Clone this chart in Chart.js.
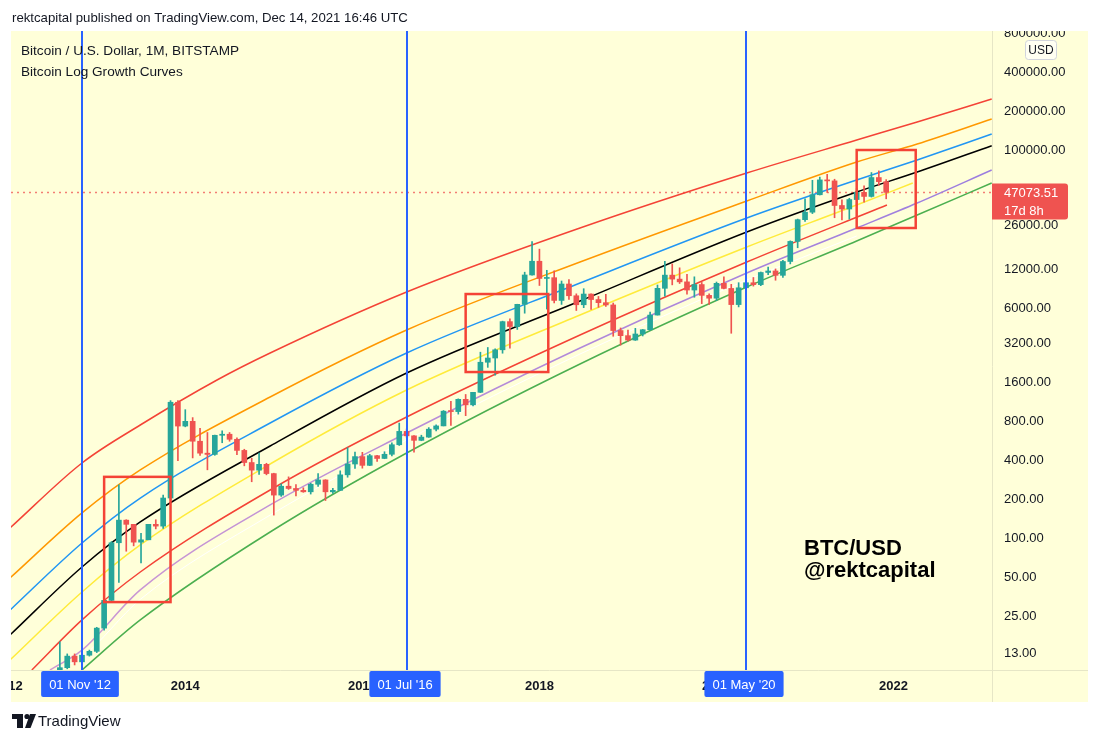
<!DOCTYPE html>
<html>
<head>
<meta charset="utf-8">
<script src="https://cdn.jsdelivr.net/npm/chart.js@4.4.1/dist/chart.umd.min.js"></script>
<style>
  html, body { margin: 0; background: #fff; }
  #wrap { position: relative; width: 1100px; height: 743px; }
</style>
</head>
<body>
<div id="wrap"><canvas id="btc" width="1100" height="743"></canvas></div>
<script>
// Monthly BTC/USD candles (Bitstamp), month 0 = Jan 2012
const candleOpen = [
  4.7, 5.5, 4.9, 4.8, 5.0, 5.2, 6.7, 9.4, 10.1, 12.4, 11.2, 12.6,
  13.5, 20.4, 33.4, 93, 139, 129, 94, 98, 129, 125, 206, 1130,
  740, 805, 565, 457, 447, 628, 640, 585, 480, 387, 338, 375,
  318, 217, 254, 244, 236, 230, 263, 284, 230, 236, 311, 377,
  430, 368, 437, 416, 448, 531, 673, 622, 574, 608, 700, 742,
  964, 957, 1190, 1079, 1348, 2300, 2480, 2870, 4735, 4340, 6440, 10850,
  13850, 10200, 10340, 6900, 9240, 7500, 6390, 7730, 7010, 6630, 6370, 4040,
  3690, 3410, 3800, 4100, 5320, 8560, 10820, 10080, 9600, 8300, 9150, 7550,
  7180, 9350, 8540, 6410, 8640, 9450, 9140, 11340, 11650, 10780, 13790, 19700,
  28990, 33110, 45150, 58800, 57750, 37300, 35040, 41460, 47100, 43820, 61300, 57000
];
const candleHigh = [
  7.4, 6.3, 5.4, 5.3, 5.2, 6.7, 9.6, 16, 12.9, 12.9, 12.6, 13.8,
  20.7, 33.4, 95, 260, 140, 129, 110, 128, 140, 217, 1163, 1163,
  990, 860, 710, 660, 630, 680, 660, 600, 490, 417, 458, 382,
  320, 265, 300, 262, 247, 268, 318, 285, 245, 334, 503, 467,
  464, 448, 439, 469, 549, 780, 703, 626, 629, 720, 755, 975,
  1150, 1200, 1297, 1350, 2750, 2990, 2920, 4775, 4980, 6450, 11400, 19670,
  17180, 11790, 11680, 9745, 9990, 7760, 8500, 7760, 7410, 7680, 6590, 4230,
  4070, 4200, 4120, 5620, 9080, 13800, 13200, 12320, 10950, 10500, 9500, 7750,
  9570, 10500, 9190, 9460, 10080, 10380, 11440, 12480, 12080, 14100, 19900, 29300,
  41950, 58350, 61780, 64900, 59500, 41300, 42400, 50500, 52900, 67000, 69000, 59050
];
const candleLow = [
  4.4, 4.2, 4.5, 4.7, 4.9, 5.2, 6.5, 7.1, 9.9, 10.6, 10.5, 12.4,
  13.2, 19.7, 33, 46, 80, 88, 65, 98, 119, 120, 200, 400,
  730, 420, 440, 340, 440, 550, 565, 445, 365, 275, 313, 311,
  152, 212, 240, 214, 228, 221, 253, 197, 224, 236, 298, 348,
  350, 366, 395, 414, 436, 524, 605, 465, 570, 605, 680, 742,
  750, 915, 890, 1060, 1340, 2100, 1830, 2700, 2950, 4120, 5500, 10800,
  9000, 5920, 6600, 6430, 7030, 5770, 6070, 5880, 6100, 6200, 3650, 3120,
  3350, 3390, 3670, 4060, 5320, 7460, 9100, 9320, 7700, 7300, 6520, 6430,
  6870, 8450, 3850, 6150, 8100, 8900, 8970, 10900, 9880, 10370, 13210, 17600,
  28130, 32300, 44950, 47000, 30000, 28800, 29300, 37300, 39600, 43300, 53250, 42000
];
const candleClose = [
  5.5, 4.9, 4.8, 5.0, 5.2, 6.7, 9.4, 10.1, 12.4, 11.2, 12.6, 13.5,
  20.4, 33.4, 93, 139, 129, 94, 98, 129, 125, 206, 1130, 740,
  805, 565, 457, 447, 628, 640, 585, 480, 387, 338, 375, 318,
  217, 254, 244, 236, 230, 263, 284, 230, 236, 311, 377, 430,
  368, 437, 416, 448, 531, 673, 622, 574, 608, 700, 742, 964,
  957, 1190, 1079, 1348, 2300, 2480, 2870, 4735, 4340, 6440, 10850, 13850,
  10200, 10340, 6900, 9240, 7500, 6390, 7730, 7010, 6630, 6370, 4040, 3690,
  3410, 3800, 4100, 5320, 8560, 10820, 10080, 9600, 8300, 9150, 7550, 7180,
  9350, 8540, 6410, 8640, 9450, 9140, 11340, 11650, 10780, 13790, 19700, 28990,
  33110, 45150, 58800, 57750, 37300, 35040, 41460, 47100, 43820, 61300, 57000, 47073.51
];
const candleMonths = candleClose.map((_, i) => i);

// Log growth curves as [month, price]
const curveTopRed = [[0.24, 121], [10, 384], [17.9, 754], [28.3, 1678], [35.5, 2711], [54, 8016], [77.5, 25000], [100.1, 66440], [115, 119400], [123.2, 164500], [133.3, 247600]];
const curveOrange = [[0.24, 49.7], [10, 158], [17.9, 339], [35.5, 1240], [54, 4081], [77.5, 13660], [100.1, 40390], [115, 80780], [123.2, 111260], [133.3, 173500]];
const curveBlue = [[0.24, 28.1], [10, 92.6], [17.9, 206], [35.5, 781], [54, 2711], [77.5, 9407], [100.1, 29850], [115, 58690], [123.2, 83740], [133.3, 133000]];
const curveBlack = [[0.24, 18.05], [10, 60.4], [17.9, 134.5], [35.5, 519], [54, 1900], [77.5, 6830], [100.1, 23280], [115, 47400], [123.2, 67640], [133.3, 108000]];
const curveYellow = [[0.24, 11.57], [10, 38.75], [17.9, 89.4], [35.5, 377], [54, 1404], [77.5, 5325], [100.1, 17840], [115, 37630], [122.6, 55630]];
const curveLowRed = [[3.2, 9.69], [10, 23.6], [17.9, 55.3], [35.5, 237.5], [54, 869], [77.5, 3731], [100.1, 13660], [119.1, 37630]];
const curvePurple = [[5.66, 9.69], [10, 13.8], [17.9, 40.2], [35.5, 182], [54, 654], [77.5, 2963], [100.1, 11235], [115, 25000], [123.2, 38970], [133.3, 70080]];
const curveWhite = [[6.6, 9.69], [10, 12.2], [17.9, 34], [35.5, 152], [54, 578], [77.5, 2662], [100.1, 9922], [115, 21690]];
const curveGreen = [[10, 9.69], [17.9, 23.6], [35.5, 112.6], [54, 458.5], [77.5, 2230], [100.1, 8760], [115, 19840], [123.2, 31500], [133.3, 55630]];

// Axes
const yTickValues = [800000, 400000, 200000, 100000, 26000, 12000, 6000, 3200, 1600, 800, 400, 200, 100, 50, 25, 13];
const xTickMonths = [0, 24, 48, 72, 96, 120];
const xTickLabels = ["2012", "2014", "2016", "2018", "2020", "2022"];

// Drawings on the chart
const markerMonths = [10, 54, 100];
const markerLabels = ["01 Nov '12", "01 Jul '16", "01 May '20"];
const boxMonthRanges = [[13, 22], [62, 73.2], [115, 123]];
const boxPriceRanges = [[32.4, 300], [1933, 7733], [25000, 100000]];
const lastPrice = 47073.51;
const countdown = "17d 8h";

const FONT = "'Liberation Sans', Arial, sans-serif";
const PANEL = "#ffffd9";
const INK = "#131722";
const UP = "#26a69a";
const DOWN = "#ef5350";
const TV_BLUE = "#2962ff";

const candleColor = (ctx) =>
  candleClose[ctx.dataIndex] >= candleOpen[ctx.dataIndex] ? UP : DOWN;

// purple curve shifts from lilac (left) to violet (right)
const purpleStroke = (ctx) => {
  const area = ctx.chart.chartArea;
  if (!area) return "#b493dd";
  const g = ctx.chart.ctx.createLinearGradient(area.left, 0, area.right, 0);
  g.addColorStop(0, "#cf9ad2");
  g.addColorStop(1, "#9b7ddf");
  return g;
};

function curve(points, color, width) {
  return {
    type: "line",
    data: points.map(([m, v]) => ({ x: m, y: v })),
    borderColor: color,
    borderWidth: width || 1.5,
    pointRadius: 0,
    cubicInterpolationMode: "monotone",
    order: 10,
  };
}

const decor = {
  id: "decor",
  beforeDraw(chart) {
    const { ctx, chartArea } = chart;
    const xs = chart.scales.x, ys = chart.scales.y;
    ctx.save();
    ctx.fillStyle = "#ffffff";
    ctx.fillRect(0, 0, chart.width, chart.height);
    ctx.fillStyle = PANEL;
    ctx.fillRect(chartArea.left, chartArea.top, ys.right - chartArea.left, xs.bottom - chartArea.top);
    // pane separators
    ctx.strokeStyle = "#e6e6c6";
    ctx.lineWidth = 1;
    ctx.beginPath();
    ctx.moveTo(chartArea.right + 0.5, chartArea.top);
    ctx.lineTo(chartArea.right + 0.5, xs.bottom);
    ctx.moveTo(chartArea.left, chartArea.bottom + 0.5);
    ctx.lineTo(ys.right, chartArea.bottom + 0.5);
    ctx.stroke();
    ctx.restore();
  },
  beforeDatasetsDraw(chart) {
    const { ctx, chartArea } = chart;
    const py = Math.round(chart.scales.y.getPixelForValue(lastPrice)) + 0.5;
    ctx.save();
    ctx.strokeStyle = "rgba(239,83,80,0.75)";
    ctx.lineWidth = 1.5;
    ctx.setLineDash([2, 4]);
    ctx.beginPath();
    ctx.moveTo(chartArea.left, py);
    ctx.lineTo(chartArea.right, py);
    ctx.stroke();
    ctx.restore();
  },
  afterDatasetsDraw(chart) {
    const { ctx, chartArea } = chart;
    const xs = chart.scales.x, ys = chart.scales.y;
    ctx.save();
    ctx.beginPath();
    ctx.rect(chartArea.left, chartArea.top, chartArea.right - chartArea.left, chartArea.bottom - chartArea.top);
    ctx.clip();
    // vertical date markers
    ctx.strokeStyle = TV_BLUE;
    ctx.lineWidth = 2;
    markerMonths.forEach((m) => {
      const x = Math.round(xs.getPixelForValue(m));
      ctx.beginPath();
      ctx.moveTo(x, chartArea.top);
      ctx.lineTo(x, chartArea.bottom);
      ctx.stroke();
    });
    // highlighted boxes
    ctx.strokeStyle = "#f44336";
    ctx.lineWidth = 2.5;
    boxMonthRanges.forEach(([m0, m1], i) => {
      const [p0, p1] = boxPriceRanges[i];
      const x0 = xs.getPixelForValue(m0), x1 = xs.getPixelForValue(m1);
      const y0 = ys.getPixelForValue(p1), y1 = ys.getPixelForValue(p0);
      ctx.strokeRect(x0, y0, x1 - x0, y1 - y0);
    });
    ctx.restore();
  },
  afterDraw(chart) {
    const { ctx, chartArea } = chart;
    const xs = chart.scales.x, ys = chart.scales.y;
    ctx.save();
    // cut labels that run outside the panel
    ctx.fillStyle = "#ffffff";
    ctx.fillRect(0, chartArea.bottom - 2, chartArea.left, xs.bottom - chartArea.bottom + 6);
    ctx.fillRect(chartArea.right + 1, 0, chart.width - chartArea.right, chartArea.top);

    // date marker labels on the time axis
    ctx.font = "13px " + FONT;
    ctx.textAlign = "center";
    ctx.textBaseline = "middle";
    markerMonths.forEach((m, i) => {
      const x = Math.round(xs.getPixelForValue(m));
      const w = ctx.measureText(markerLabels[i]).width + 16;
      ctx.fillStyle = TV_BLUE;
      ctx.beginPath();
      ctx.roundRect(x - w / 2 - 2, chartArea.bottom + 1, w, 26, 2);
      ctx.fill();
      ctx.fillStyle = "#ffffff";
      ctx.fillText(markerLabels[i], x - 2, chartArea.bottom + 15);
    });

    // last price label on the price axis
    const py = ys.getPixelForValue(lastPrice);
    ctx.fillStyle = DOWN;
    ctx.beginPath();
    ctx.roundRect(chartArea.right, py - 9, 76, 36, [0, 3, 3, 0]);
    ctx.fill();
    ctx.fillStyle = "#ffffff";
    ctx.textAlign = "left";
    ctx.fillText(lastPrice.toFixed(2), chartArea.right + 12, py + 1);
    ctx.fillText(countdown, chartArea.right + 12, py + 19);

    // currency badge
    ctx.fillStyle = "#fffff2";
    ctx.strokeStyle = "#d1d4dc";
    ctx.lineWidth = 1;
    ctx.beginPath();
    ctx.roundRect(1025.5, 40.5, 31, 19, 3);
    ctx.fill();
    ctx.stroke();
    ctx.fillStyle = INK;
    ctx.font = "12px " + FONT;
    ctx.textAlign = "center";
    ctx.fillText("USD", 1041, 50.5);

    // header and legend
    ctx.textAlign = "left";
    ctx.textBaseline = "alphabetic";
    ctx.fillStyle = INK;
    ctx.font = "13.2px " + FONT;
    ctx.fillText("rektcapital published on TradingView.com, Dec 14, 2021 16:46 UTC", 12, 22);
    ctx.font = "13.6px " + FONT;
    ctx.fillText("Bitcoin / U.S. Dollar, 1M, BITSTAMP", 21, 55);
    ctx.fillText("Bitcoin Log Growth Curves", 21, 76);

    // watermark text
    ctx.fillStyle = "#000000";
    ctx.font = "bold 22px " + FONT;
    ctx.fillText("BTC/USD", 804, 555);
    ctx.fillText("@rektcapital", 804, 577);

    // footer logo
    ctx.fillStyle = INK;
    ctx.fillRect(12, 714, 11, 5);
    ctx.fillRect(17, 714, 6, 14);
    ctx.beginPath();
    ctx.arc(27, 716.5, 2.6, 0, Math.PI * 2);
    ctx.fill();
    ctx.beginPath();
    ctx.moveTo(30, 714);
    ctx.lineTo(36, 714);
    ctx.lineTo(30.5, 728);
    ctx.lineTo(25, 728);
    ctx.closePath();
    ctx.fill();
    ctx.font = "15px " + FONT;
    ctx.fillText("TradingView", 38, 726);
    ctx.restore();
  },
};

new Chart(document.getElementById("btc"), {
  type: "bar",
  data: {
    datasets: [
      {
        type: "bar",
        data: candleMonths.map((m) => ({ x: m, y: [candleLow[m], candleHigh[m]] })),
        backgroundColor: candleColor,
        barThickness: 1,
        grouped: false,
        order: 2,
      },
      {
        type: "bar",
        data: candleMonths.map((m) => ({ x: m, y: [candleOpen[m], candleClose[m]] })),
        backgroundColor: candleColor,
        barThickness: 5,
        minBarLength: 1,
        grouped: false,
        order: 1,
      },
      curve(curveTopRed, "#f44336"),
      curve(curveOrange, "#ff9800"),
      curve(curveBlue, "#2196f3"),
      curve(curveBlack, "#000000"),
      curve(curveYellow, "#ffeb3b"),
      curve(curveLowRed, "#f44336"),
      curve(curvePurple, purpleStroke),
      curve(curveWhite, "#ffffff", 1),
      curve(curveGreen, "#4caf50"),
    ],
  },
  options: {
    responsive: false,
    animation: false,
    devicePixelRatio: 1,
    layout: { padding: { left: 11, top: 31, right: 12, bottom: 41 } },
    plugins: { legend: { display: false }, tooltip: { enabled: false } },
    scales: {
      x: {
        type: "linear",
        min: 0.377,
        max: 133.34,
        offset: false,
        grid: { display: false, drawTicks: false },
        border: { display: false },
        ticks: {
          color: INK,
          font: { family: FONT, size: 13, weight: "bold" },
          padding: 9,
          maxRotation: 0,
          autoSkip: false,
          callback: (v, i) => xTickLabels[i],
        },
        afterBuildTicks: (s) => {
          s.ticks = xTickMonths.map((v) => ({ value: v }));
        },
        afterFit: (s) => {
          s.height = 32;
          s.paddingLeft = 0;
          s.paddingRight = 0;
        },
      },
      y: {
        type: "logarithmic",
        position: "right",
        min: 9.69,
        max: 829000,
        grid: { display: false, drawTicks: false },
        border: { display: false },
        ticks: {
          color: INK,
          font: { family: FONT, size: 13 },
          padding: 12,
          autoSkip: false,
          callback: (v) => Number(v).toFixed(2),
        },
        afterBuildTicks: (s) => {
          s.ticks = yTickValues.map((v) => ({ value: v }));
        },
        afterFit: (s) => {
          s.width = 96;
          s.paddingTop = 0;
          s.paddingBottom = 0;
        },
      },
    },
  },
  plugins: [decor],
});
</script>
</body>
</html>
